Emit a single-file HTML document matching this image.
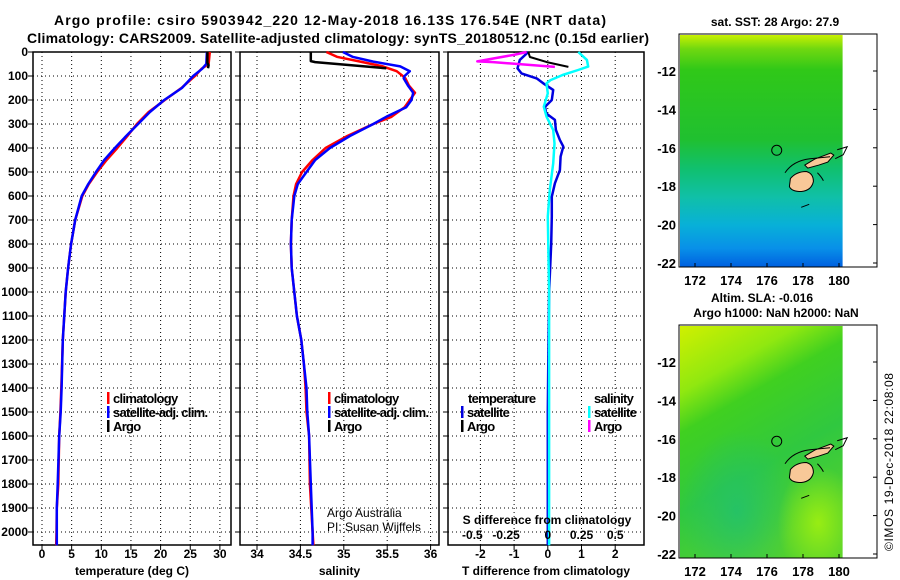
<!DOCTYPE html>
<html><head><meta charset="utf-8"><style>
body{margin:0;background:#fff}
svg{display:block;font-family:"Liberation Sans",sans-serif}
.tk{font-weight:bold;font-size:12px}
.mk{font-weight:bold;font-size:13px}
.ttl{font-weight:bold;font-size:14px}
.lg{font-size:13px;font-weight:bold;letter-spacing:-0.7px}
</style></head><body>
<svg id="fig" width="900" height="580" viewBox="0 0 900 580">
<defs>
<linearGradient id="sstg" x1="0" y1="0" x2="0" y2="1">
<stop offset="0" stop-color="#c8f000"/><stop offset="0.06" stop-color="#70d810"/><stop offset="0.15" stop-color="#30c818"/>
<stop offset="0.45" stop-color="#20c030"/><stop offset="0.58" stop-color="#10c070"/><stop offset="0.7" stop-color="#10c0a8"/>
<stop offset="0.82" stop-color="#08b0d8"/><stop offset="0.92" stop-color="#0890e8"/><stop offset="1" stop-color="#0060e0"/>
</linearGradient>
<linearGradient id="slag" x1="0" y1="0" x2="0.4" y2="1">
<stop offset="0" stop-color="#d0f000"/><stop offset="0.25" stop-color="#90e810"/><stop offset="0.4" stop-color="#40d020"/>
<stop offset="0.7" stop-color="#30c840"/><stop offset="1" stop-color="#50d030"/>
</linearGradient>
<radialGradient id="slab" cx="0.35" cy="0.8" r="0.35"><stop offset="0" stop-color="#20c070" stop-opacity="0.8"/><stop offset="1" stop-color="#20c070" stop-opacity="0"/></radialGradient>
<radialGradient id="slay" cx="0.85" cy="0.85" r="0.25"><stop offset="0" stop-color="#a0f010" stop-opacity="0.9"/><stop offset="1" stop-color="#a0f010" stop-opacity="0"/></radialGradient>
</defs>
<text class="ttl" x="330" y="25" text-anchor="middle" textLength="552">Argo profile: csiro 5903942_220 12-May-2018 16.13S 176.54E (NRT data)</text>
<text class="ttl" x="338" y="43" text-anchor="middle" textLength="622">Climatology: CARS2009. Satellite-adjusted climatology: synTS_20180512.nc (0.15d earlier)</text>
<g id="plots"></g>
<g id="maps"></g>
<text x="893" y="462" font-size="12" text-anchor="middle" transform="rotate(-90 893 462)" textLength="178">©IMOS 19-Dec-2018 22:08:08</text>
</svg>
<script>
// ---- data ----
const depthTicks=[0,100,200,300,400,500,600,700,800,900,1000,1100,1200,1300,1400,1500,1600,1700,1800,1900,2000];
const tempTicks=[0,5,10,15,20,25,30];
const salTicks=[34,34.5,35,35.5,36];
const salTickLabels=['34','34.5','35','35.5','36'];
const tdTicks=[-2,-1,0,1,2];
const sdTicks=[-0.5,-0.25,0,0.25,0.5];
const sdTickLabels=['-0.5','-0.25','0','0.25','0.5'];
const tempDepth=[0,50,70,100,150,200,250,300,350,400,450,500,550,600,700,800,900,1000,1200,1400,1500,1600,1800,1900,2000,2055];
const tempSat=[27.8,27.7,27.0,25.5,23.6,20.6,18.2,16.2,14.2,12.3,10.5,9.1,7.8,6.7,5.6,4.9,4.4,4.0,3.5,3.3,3.15,2.9,2.65,2.5,2.5,2.5];
const tempClim=[28.3,28.1,26.9,25.8,23.5,20.7,18.0,16.0,14.4,12.7,10.9,9.3,7.9,6.8,5.6,4.9,4.4,4.0,3.5,3.25,3.1,2.9,2.75,2.5,2.45,2.4];
const argoDepth=[0,20,45,55,68];
const argoTemp=[27.9,27.9,27.9,28.1,28.0];
const salDepth=[0,20,40,60,80,100,110,140,170,200,230,270,300,350,400,450,500,550,600,700,800,900,1000,1100,1200,1300,1400,1500,1600,1800,2000,2055];
const salSat=[34.99,35.1,35.34,35.65,35.76,35.70,35.69,35.74,35.80,35.78,35.72,35.49,35.34,35.07,34.84,34.67,34.57,34.47,34.43,34.40,34.39,34.40,34.43,34.46,34.51,34.54,34.57,34.58,34.60,34.62,34.64,34.64];
const salClim=[34.80,34.92,35.19,35.45,35.61,35.68,35.71,35.75,35.82,35.76,35.70,35.55,35.34,35.04,34.79,34.64,34.52,34.45,34.42,34.40,34.39,34.40,34.43,34.46,34.51,34.54,34.56,34.57,34.60,34.61,34.64,34.65];
const argoSalDepth=[0,38,42,68];
const argoSal=[34.62,34.62,34.67,35.49];
const tdDepth=[0,33,68,89,110,131,158,200,228,256,283,325,367,394,436,492,547,603,686,800,1000,1200,1500,2055];
const tSatDiff=[-0.58,-0.83,-0.9,-0.78,-0.33,-0.13,0.16,0.12,-0.08,-0.05,0.21,0.24,0.36,0.46,0.38,0.36,0.21,0.12,0.12,0.1,0.04,0.02,0,0];
const sdDepth=[0,33,61,75,96,117,131,172,228,269,325,381,464,575,686,1000,1500,2055];
const sSatDiff=[0.226,0.29,0.30,0.225,0.11,0.02,-0.01,0,-0.03,-0.01,0.04,0.05,0.04,0.015,0,0.01,0.01,0.01];
const argoTdDepth=[0,21,42,62];
const argoTDiff=[-0.58,-0.53,-0.03,0.61];
const argoSdDepth=[0,11,39,42,62];
const argoSDiff=[-0.157,-0.243,-0.523,-0.405,0.053];
const lonTicks=[172,174,176,178,180];
const latTicks=[-12,-14,-16,-18,-20,-22];

const NS='http://www.w3.org/2000/svg';
const plots=document.getElementById('plots');
const maps=document.getElementById('maps');
function mk(tag,attrs,parent,txt){const e=document.createElementNS(NS,tag);for(const k in attrs)e.setAttribute(k,attrs[k]);if(txt!==undefined)e.textContent=txt;parent.appendChild(e);return e;}
const Y0=52,YB=545;
const yD=d=>Y0+d*0.24;
const panels=[
 {x0:33,x1:231,sx:v=>42+v*5.93,ticks:tempTicks,labels:tempTicks.map(String),title:'temperature (deg C)',name:'temperature'},
 {x0:240,x1:439,sx:v=>257+(v-34)*86.8,ticks:salTicks,labels:salTickLabels,title:'salinity',name:'salinity'},
 {x0:448,x1:644,sx:v=>547.8+v*33.7,ticks:tdTicks,labels:tdTicks.map(String),title:'T difference from climatology',name:'difference'}
];
const sdx=v=>547.8+v*4*33.7;
panels.forEach((p,i)=>{
 const g=mk('g',{},plots);
 
 
 depthTicks.forEach(d=>{
  const l=mk('line',{x1:p.x0,x2:p.x1,y1:yD(d),y2:yD(d),stroke:'#000','stroke-width':1,'stroke-dasharray':'1 3'},g);
  
  
  const t1=mk('line',{x1:p.x0-5,x2:p.x0,y1:yD(d),y2:yD(d),stroke:'#000'},g);
  
  
  if(i===0){
   const t=mk('text',{class:'tk',x:28,y:yD(d)+4,'text-anchor':'end'},g,String(d));
   
   
  }
 });
 p.ticks.forEach((v,j)=>{
  const x=p.sx(v);
  const l=mk('line',{x1:x,x2:x,y1:Y0,y2:YB,stroke:'#000','stroke-dasharray':'1 3'},g);
  
  
  const tk=mk('line',{x1:x,x2:x,y1:YB,y2:YB+5,stroke:'#000'},g);
  
  
  const t=mk('text',{class:'tk',x:x,y:558,'text-anchor':'middle'},g,p.labels[j]);
  
  
 });
 const fr=mk('rect',{x:p.x0,y:Y0,width:p.x1-p.x0,height:YB-Y0,fill:'none',stroke:'#000','stroke-width':1.5},g);
 
 
 const at=mk('text',{class:'tk',x:(p.x0+p.x1)/2,y:575,'text-anchor':'middle'},g,p.title);
 
 
});
function line(xs,ds,sx,color,name,w){
 const pts=xs.map((v,i)=>sx(v).toFixed(1)+','+yD(ds[i]).toFixed(1)).join(' ');
 const pl=mk('polyline',{points:pts,fill:'none',stroke:color,'stroke-width':w||2.5,'stroke-linejoin':'round'},plots);
 
 
}
line(tempClim,tempDepth,panels[0].sx,'#ff0000','temperature-climatology-line');
line(tempSat,tempDepth,panels[0].sx,'#0000ff','temperature-satellite-line');
line(argoTemp,argoDepth,panels[0].sx,'#000','temperature-argo-line');
line(salClim,salDepth,panels[1].sx,'#ff0000','salinity-climatology-line');
line(salSat,salDepth,panels[1].sx,'#0000ff','salinity-satellite-line');
line(argoSal,argoSalDepth,panels[1].sx,'#000','salinity-argo-line');
line(tSatDiff,tdDepth,panels[2].sx,'#0000e0','t-diff-satellite-line');
line(sSatDiff,sdDepth,sdx,'#00ffff','s-diff-satellite-line');
line(argoTDiff,argoTdDepth,panels[2].sx,'#000','t-diff-argo-line',2);
line(argoSDiff,argoSdDepth,sdx,'#ff00ff','s-diff-argo-line',2.5);
sdTicks.forEach((v,j)=>{
 const t=mk('text',{class:'tk',x:sdx(v)-(v<0?8:0),y:539,'text-anchor':'middle'},plots,sdTickLabels[j]);
 
 
});
const st=mk('text',{class:'tk',x:547,y:524,'text-anchor':'middle'},plots,'S difference from climatology');


function leg(x,y,color,label,name){
 const r=mk('rect',{x:x,y:y-6,width:2.5,height:12,fill:color},plots);
 
 
 const t=mk('text',{class:'lg',x:x+6,y:y+5},plots,label);
 
 
}
leg(107,398,'#ff0000','climatology','legend-temp-climatology');
leg(107,412,'#0000ff','satellite-adj. clim.','legend-temp-satellite');
leg(107,426,'#000','Argo','legend-temp-argo');
leg(328,398,'#ff0000','climatology','legend-sal-climatology');
leg(328,412,'#0000ff','satellite-adj. clim.','legend-sal-satellite');
leg(328,426,'#000','Argo','legend-sal-argo');
const lt=mk('text',{class:'lg',x:468,y:403},plots,'temperature');


const ls=mk('text',{class:'lg',x:594,y:403},plots,'salinity');


leg(461,412,'#0000e0','satellite','legend-tdiff-satellite');
leg(461,426,'#000','Argo','legend-tdiff-argo');
leg(588,412,'#00ffff','satellite','legend-sdiff-satellite');
leg(588,426,'#ff00ff','Argo','legend-sdiff-argo');
const a1=mk('text',{x:327,y:517,'font-size':12},plots,'Argo Australia');


const a2=mk('text',{x:327,y:531,'font-size':12},plots,'PI: Susan Wijffels');



function drawMap(top,fill,name,titles){
 const g=mk('g',{},maps);
 
 
 const lx=lon=>695+(lon-172)*18;
 const ly=lat=>top+37+(-12-lat)*19.2;
 const bg=mk('rect',{x:680,y:top+1,width:lx(180.2)-680,height:ly(-22.2)-top-1,fill:fill[0]},g);
 
 
 fill.slice(1).forEach(f=>{const o=mk('rect',{x:680,y:top+1,width:lx(180.2)-680,height:ly(-22.2)-top-1,fill:f},g);});
 const vl=mk('path',{d:`M${lx(177.3)},${ly(-17.6)} q6,-7 16,-7 q7,2 7,10 q-2,9 -12,10 q-10,0 -12,-5 z`,fill:'#f8c898',stroke:'#000','stroke-width':1},g);
 
 
 const vn=mk('path',{d:`M${lx(178.1)},${ly(-16.9)} l10,-6 l16,-6 l3,2 l-6,7 l-9,3 l-11,3 z`,fill:'#f8c898',stroke:'#000','stroke-width':1},g);
 
 
 const rf=mk('path',{d:`M${lx(177)},${ly(-17.3)} q8,-12 25,-14 l20,-2 M${lx(178.8)},${ly(-17.3)} q4,4 6,8 M${lx(177.9)},${ly(-19.1)} l8,-3 M${lx(179.9)},${ly(-16.1)} l10,-3 l-4,8 l-8,4`,fill:'none',stroke:'#000','stroke-width':1},g);
 
 
 const c=mk('circle',{cx:lx(176.54),cy:ly(-16.13),r:5,fill:'none',stroke:'#000','stroke-width':1},g);
 
 
 const fr=mk('rect',{x:679,y:top,width:198,height:233,fill:'none',stroke:'#000','stroke-width':1},g);
 
 
 lonTicks.forEach(lon=>{
  const t=mk('text',{class:'mk',x:lx(lon),y:top+251,'text-anchor':'middle'},g,String(lon));
  
  
  const tk=mk('line',{x1:lx(lon),x2:lx(lon),y1:top+233,y2:top+229,stroke:'#000'},g);
  
  
 });
 latTicks.forEach(lat=>{
  const t=mk('text',{class:'mk',x:676,y:ly(lat)+5,'text-anchor':'end'},g,String(lat));
  
  
  const tk=mk('line',{x1:873,x2:877,y1:ly(lat),y2:ly(lat),stroke:'#000'},g);
  
  
 });
 titles.forEach((s,i)=>{
  const t=mk('text',{class:'tk',x:s[1],y:s[2],'text-anchor':'middle'},g,s[0]);
  
  
 });
}
drawMap(34,['url(#sstg)'],'sst-map',[['sat. SST: 28 Argo: 27.9',775,26]]);
drawMap(325,['url(#slag)','url(#slab)','url(#slay)'],'sla-map',[['Altim. SLA: -0.016',762,302],['Argo h1000: NaN h2000: NaN',776,317]]);
</script>
</body></html>
